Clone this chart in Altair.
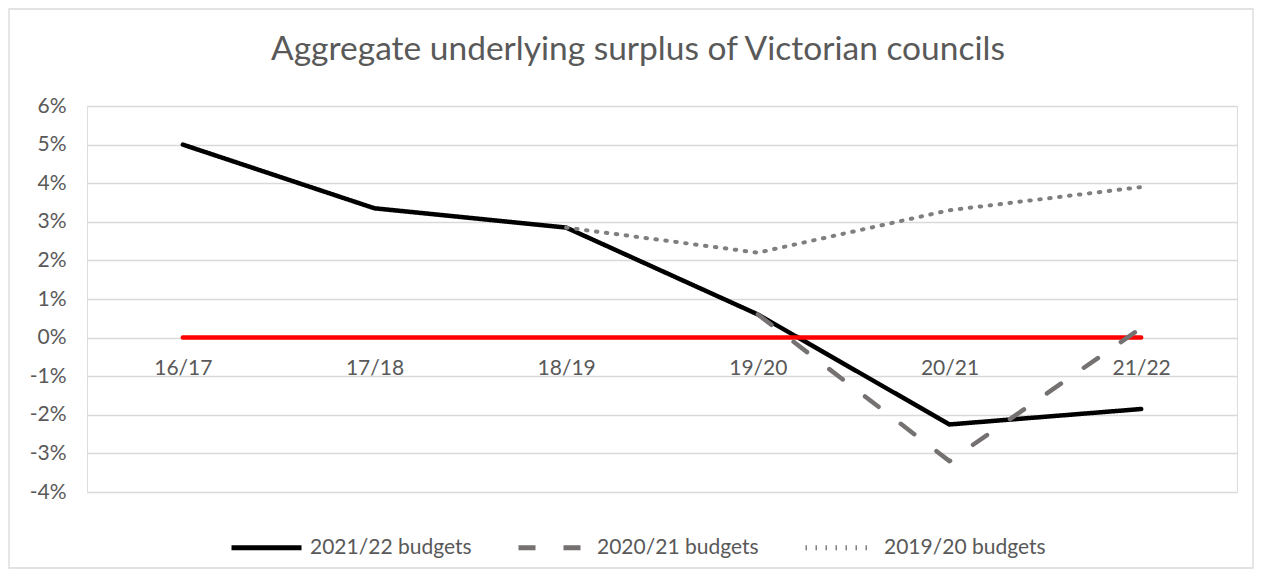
import altair as alt
import pandas as pd

categories = ["16/17", "17/18", "18/19", "19/20", "20/21", "21/22"]
series_names = ["2021/22 budgets", "2020/21 budgets", "2019/20 budgets"]
budget_2122 = [5.0, 3.35, 2.85, 0.6, -2.25, -1.85]
budget_2021 = [None, None, None, 0.6, -3.2, 0.25]
budget_1920 = [None, None, 2.85, 2.2, 3.3, 3.9]
zero_line = [0, 0, 0, 0, 0, 0]
y_ticks = [-4, -3, -2, -1, 0, 1, 2, 3, 4, 5, 6]

FONT = "Lato"
TXT = "#595959"
W, H = 1150, 386


def frame(name, vals):
    rows = [{"cat": c, "value": v, "series": name} for c, v in zip(categories, vals) if v is not None]
    return pd.DataFrame(rows)


df_a = frame(series_names[0], budget_2122)
df_b = frame(series_names[1], budget_2021)
df_c = frame(series_names[2], budget_1920)
df_zero = pd.DataFrame({"cat": categories, "value": zero_line})

x_enc = alt.X(
    "cat:N",
    sort=categories,
    scale=alt.Scale(type="point", padding=0.5, domain=categories),
    axis=alt.Axis(
        title=None, domain=False, ticks=False, grid=False, labelAngle=0,
        offset=-(H * 0.4), labelPadding=20, labelFont=FONT, labelFontSize=21,
        labelColor=TXT,
    ),
)
y_enc = alt.Y(
    "value:Q",
    scale=alt.Scale(domain=[-4, 6], nice=False, zero=False),
    axis=alt.Axis(
        title=None, values=y_ticks, labelExpr="datum.value + '%'",
        domain=False, ticks=False, grid=True, gridColor="#d9d9d9", gridWidth=1.3,
        labelPadding=21, labelFont=FONT, labelFontSize=21, labelColor=TXT,
    ),
)

legend = alt.Legend(
    title=None, orient="none", direction="horizontal", legendX=142, legendY=404,
    symbolType="stroke", symbolSize=4900, symbolStrokeWidth=5,
    labelFont=FONT, labelFontSize=21, labelColor=TXT, labelOffset=6,
    labelLimit=400, columnPadding=36, padding=0,
)
color_enc = alt.Color(
    "series:N",
    scale=alt.Scale(domain=series_names, range=["#000000", "#767171", "#7f7f7f"]),
    legend=legend,
)
dash_enc = alt.StrokeDash(
    "series:N",
    scale=alt.Scale(domain=series_names, range=[[1, 0], [17, 28], [1.5, 8.5]]),
    legend=legend,
)

border = alt.Chart(pd.DataFrame({"k": [0]})).mark_rect(
    fill="transparent", stroke="#d9d9d9", strokeWidth=1.3
).encode(
    x=alt.value(-78), x2=alt.value(1166), y=alt.value(-97), y2=alt.value(462)
)

line_a = alt.Chart(df_a).mark_line(strokeWidth=4.5, strokeCap="round", strokeJoin="round").encode(
    x=x_enc, y=y_enc, color=color_enc, strokeDash=dash_enc
)
line_zero = alt.Chart(df_zero).mark_line(strokeWidth=4.5, strokeCap="round", color="#ff0000").encode(
    x=x_enc, y=y_enc
)
line_b = alt.Chart(df_b).mark_line(strokeWidth=4.5, strokeCap="round", strokeJoin="round").encode(
    x=x_enc, y=y_enc, color=color_enc, strokeDash=dash_enc
)
line_c = alt.Chart(df_c).mark_line(strokeWidth=4, strokeCap="round", strokeJoin="round").encode(
    x=x_enc, y=y_enc, color=color_enc, strokeDash=dash_enc
)

chart = alt.layer(border, line_a, line_zero, line_b, line_c).properties(
    width=W,
    height=H,
    title=alt.TitleParams(
        "Aggregate underlying surplus of Victorian councils",
        font=FONT, fontSize=33.5, fontWeight="normal", color=TXT,
        anchor="middle", frame="group", dx=-24, offset=-85, baseline="alphabetic",
    ),
    autosize=alt.AutoSizeParams(type="none"),
    padding={"left": 79, "top": 98, "right": 18, "bottom": 77},
).configure_view(stroke=None).configure(background="white")

chart.save("out.html", embed_options={"renderer": "svg", "actions": False})
